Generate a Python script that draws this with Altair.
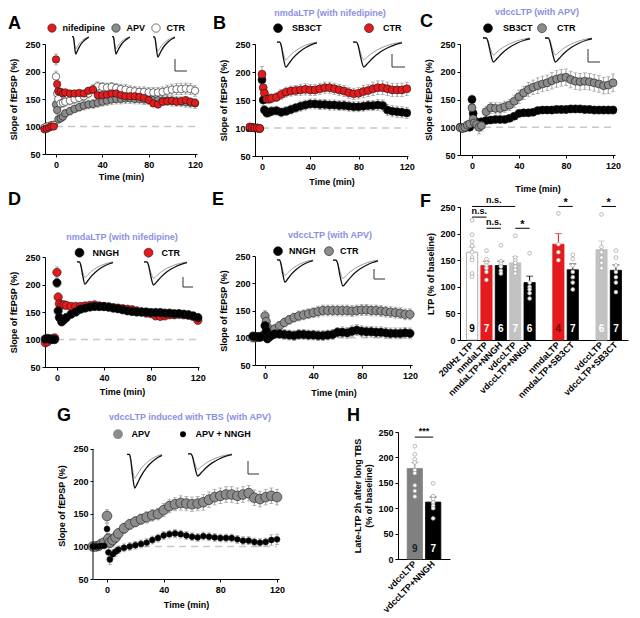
import altair as alt
import pandas as pd

FONT = "Liberation Sans"
RED = "#e41a1c"
GRAY = "#8c8c8c"
LGRAY = "#c2c2c2"
BLACK = "#000000"
WHITE = "#ffffff"
SUBCOL = "#8c8fe0"
ERRCOL = "#8a8a8a"
DASHCOL = "#c8c8c8"

# ---------------- time-course data ----------------
T = [-10, -8, -6, -4, -2, 0, 1, 2, 4, 6, 8, 12, 16, 20, 24, 28, 32, 36, 40, 44, 48, 52, 56, 60,
     64, 68, 72, 76, 80, 84, 88, 92, 96, 100, 104, 108, 112, 116, 120]
X_TICKS = [0, 40, 80, 120]
Y_TICKS = [50, 100, 150, 200, 250]

A_NIF = [95, 96, 98, 100, 100, 222, 177, 164, 163, 160, 162,
         160, 160, 161, 160, 165, 167, 157, 157, 158, 160, 160, 157, 155, 155, 155, 154, 152, 148, 142, 140, 145, 146, 147, 145, 146, 148, 145, 143]
A_APV = [97, 99, 100, 102, 103, 140, 130, 113, 115, 118, 124,
         128, 132, 135, 138, 140, 141, 143, 145, 147, 149, 150, 150, 151, 151, 150, 150, 149, 149, 148, 148, 147, 147, 146, 146, 145, 144, 143, 142]
A_CTR = [98, 100, 101, 102, 103, 191, 160, 150, 142, 143, 145,
         147, 150, 152, 155, 160, 168, 173, 172, 171, 172, 170, 168, 167, 165, 164, 163, 163, 162, 162, 162, 163, 165, 167, 168, 168, 169, 168, 165]
A_NIF_E = [3, 3, 3, 3, 3, 10, 8, 6, 6, 5, 5,
           5, 5, 5, 5, 6, 6, 6, 6, 6, 6, 6, 6, 6, 6, 6, 6, 6, 6, 6, 6, 6, 6, 6, 6, 6, 6, 6, 6]
A_APV_E = [3, 3, 3, 3, 3, 8, 8, 7, 7, 7, 7,
           7, 7, 7, 8, 8, 8, 8, 8, 9, 9, 9, 9, 9, 9, 9, 9, 9, 9, 9, 9, 9, 9, 9, 9, 9, 9, 9, 9]
A_CTR_E = [3, 3, 3, 3, 3, 10, 9, 8, 8, 8, 8,
           8, 8, 8, 8, 8, 8, 8, 8, 8, 8, 8, 9, 9, 9, 9, 9, 9, 9, 9, 9, 9, 10, 10, 10, 10, 10, 10, 10]

B_SB3CT = [101, 101, 100, 100, 99, 186, 150, 132, 127, 128, 130,
           131, 128, 130, 133, 136, 139, 141, 143, 143, 142, 142, 141, 141, 140, 140, 139, 138, 138, 139, 140, 140, 141, 140, 132, 130, 129, 128, 127]
B_CTR = [102, 101, 100, 100, 99, 196, 172, 162, 152, 152, 153,
         155, 160, 164, 166, 167, 168, 169, 168, 168, 170, 172, 172, 170, 168, 166, 163, 161, 162, 165, 167, 170, 172, 172, 170, 168, 168, 168, 170]
B_SB3CT_E = [3, 3, 3, 3, 3, 12, 10, 8, 8, 8, 8,
             8, 8, 8, 8, 8, 9, 9, 9, 9, 9, 9, 9, 9, 9, 9, 9, 9, 9, 9, 9, 9, 10, 10, 10, 10, 10, 10, 10]
B_CTR_E = [3, 3, 3, 3, 3, 14, 10, 8, 8, 8, 8,
           8, 9, 9, 9, 9, 10, 10, 10, 10, 10, 10, 10, 10, 10, 10, 10, 10, 10, 11, 11, 12, 12, 12, 12, 12, 12, 12, 12]

C_SB3CT = [100, 98, 99, 101, 100, 150, 125, 112, 108, 108, 110,
           112, 113, 114, 114, 114, 116, 120, 125, 126, 126, 127, 130, 131, 131, 131, 132, 132, 132, 133, 133, 133, 132, 132, 131, 131, 131, 131, 131]
C_CTR = [99, 98, 100, 104, 106, 135, 115, 108, 105, 100, 103,
         128, 135, 134, 134, 137, 140, 147, 155, 162, 168, 172, 175, 178, 180, 184, 187, 189, 190, 186, 183, 182, 183, 182, 180, 178, 175, 176, 180]
C_SB3CT_E = [3, 3, 3, 3, 3, 8, 6, 5, 5, 5, 5,
             5, 5, 5, 5, 5, 5, 5, 6, 6, 6, 6, 6, 6, 6, 7, 7, 7, 7, 7, 7, 7, 7, 7, 7, 7, 7, 7, 7]
C_CTR_E = [3, 3, 3, 3, 4, 15, 12, 10, 10, 12, 10,
           10, 10, 10, 10, 10, 10, 11, 12, 12, 13, 13, 14, 14, 14, 15, 15, 15, 15, 15, 15, 15, 15, 15, 15, 15, 15, 15, 16]

D_CTR = [94, 96, 100, 101, 103, 222, 177, 165, 163, 163, 162,
         160, 160, 160, 161, 162, 163, 161, 160, 159, 158, 157, 156, 155, 154, 152, 150, 148, 147, 143, 142, 143, 145, 145, 146, 145, 144, 142, 135]
D_NNGH = [101, 102, 101, 100, 100, 203, 152, 140, 132, 136, 140,
          146, 150, 155, 157, 159, 160, 160, 160, 159, 157, 156, 154, 152, 151, 150, 150, 150, 149, 149, 149, 148, 148, 147, 147, 146, 145, 143, 140]
D_CTR_E = [3, 3, 3, 3, 3, 10, 8, 6, 6, 5, 5,
           5, 5, 5, 5, 5, 5, 5, 5, 5, 5, 5, 5, 5, 5, 5, 5, 5, 5, 5, 5, 5, 5, 5, 5, 5, 5, 5, 5]
D_NNGH_E = [3, 3, 3, 3, 3, 8, 8, 7, 6, 6, 6,
            6, 6, 6, 6, 6, 6, 6, 6, 6, 6, 6, 6, 6, 6, 6, 6, 5, 5, 5, 5, 5, 5, 5, 5, 5, 5, 5, 5]

E_CTR = [100, 100, 101, 102, 104, 140, 130, 120, 110, 112, 116,
         122, 128, 133, 137, 140, 142, 144, 146, 148, 150, 150, 150, 150, 150, 150, 149, 150, 151, 151, 150, 150, 149, 148, 147, 146, 145, 143, 143]
E_NNGH = [103, 102, 102, 101, 103, 122, 112, 98, 102, 105, 107,
          107, 106, 105, 104, 106, 106, 105, 105, 104, 104, 105, 106, 110, 110, 109, 112, 114, 112, 111, 111, 110, 110, 109, 108, 108, 108, 109, 108]
E_CTR_E = [3, 3, 3, 3, 3, 10, 9, 8, 8, 8, 8,
           8, 8, 8, 8, 9, 9, 9, 9, 10, 10, 10, 10, 10, 10, 10, 10, 10, 10, 10, 10, 10, 10, 10, 10, 10, 10, 10, 10]
E_NNGH_E = [3, 3, 3, 3, 3, 8, 7, 6, 7, 7, 8,
            8, 9, 9, 9, 9, 9, 9, 9, 9, 9, 9, 9, 9, 10, 10, 10, 10, 10, 10, 10, 10, 10, 10, 10, 10, 10, 10, 10]

G_APV = [100, 100, 101, 104, 106, 147, 112, 106, 110, 114, 120,
         128, 134, 138, 142, 145, 148, 150, 156, 162, 165, 167, 166, 165, 166, 168, 172, 176, 178, 180, 180, 178, 180, 182, 175, 173, 176, 178, 176]
G_NNGH = [100, 100, 100, 101, 101, 127, 91, 80, 88, 92, 95,
          98, 100, 102, 104, 106, 110, 113, 117, 119, 120, 119, 117, 115, 114, 116, 115, 114, 113, 113, 113, 111, 109, 109, 107, 106, 107, 110, 111]
G_APV_E = [3, 3, 3, 3, 4, 10, 8, 8, 8, 8, 8,
           8, 8, 8, 8, 9, 9, 9, 10, 10, 10, 11, 11, 11, 11, 12, 12, 12, 12, 12, 12, 12, 12, 12, 12, 12, 12, 12, 12]
G_NNGH_E = [3, 3, 3, 3, 3, 8, 8, 8, 7, 7, 6,
            6, 6, 6, 6, 6, 6, 6, 6, 6, 6, 6, 6, 6, 6, 6, 6, 6, 6, 6, 6, 6, 6, 6, 6, 6, 6, 8, 8]

# inset trace shape (fractions of inset box)
TRACE_U = [0.0, 0.07, 0.10, 0.16, 0.22, 0.30, 0.40, 0.55, 0.72, 0.88, 1.0]
TRACE_BLACK = [0.04, 0.04, 0.15, 0.65, 1.0, 0.86, 0.66, 0.43, 0.25, 0.13, 0.07]
TRACE_GRAY = [0.04, 0.04, 0.13, 0.48, 0.72, 0.60, 0.45, 0.29, 0.16, 0.08, 0.04]
BAR_U = [0, 0, 1]
BAR_V = [0, 1, 1]

# ---------------- bar data ----------------
F_KEYS = ["200Hz LTP", "nmdaLTP", "nmdaLTP+NNGH", "vdccLTP", "vdccLTP+NNGH", " ",
          "nmdaLTP ", "nmdaLTP+SB3CT", "  ", "vdccLTP ", "vdccLTP+SB3CT"]
F_BARS = ["200Hz LTP", "nmdaLTP", "nmdaLTP+NNGH", "vdccLTP", "vdccLTP+NNGH",
          "nmdaLTP ", "nmdaLTP+SB3CT", "vdccLTP ", "vdccLTP+SB3CT"]
F_MEAN = [165, 140, 140, 145, 108, 180, 132, 170, 131]
F_TOP = [175, 148, 148, 157, 120, 200, 143, 186, 141]
F_N = ["9", "7", "6", "7", "6", "4", "7", "6", "7"]
F_FILL = [WHITE, RED, BLACK, LGRAY, BLACK, RED, BLACK, LGRAY, BLACK]
F_EDGE = ["#9a9a9a", RED, BLACK, LGRAY, BLACK, RED, BLACK, LGRAY, BLACK]
F_ERRC = ["#9a9a9a", RED, BLACK, LGRAY, BLACK, RED, BLACK, LGRAY, BLACK]
F_NCOL = [BLACK, WHITE, WHITE, WHITE, WHITE, "#7a0000", WHITE, WHITE, WHITE]
F_D0 = [225, 198, 185, 177, 165, 155, 150, 125, 119]
F_D1 = [168, 152, 145, 140, 135, 128, 113]
F_D2 = [178, 148, 143, 138, 130, 125]
F_D3 = [196, 155, 150, 145, 138, 132, 125]
F_D4 = [163, 108, 100, 95, 88, 78]
F_D5 = [238, 180, 165, 150]
F_D6 = [160, 152, 140, 128, 118, 108, 95]
F_D7 = [236, 175, 165, 155, 145, 135]
F_D8 = [168, 155, 140, 128, 118, 108, 90]
F_BR_FROM = ["200Hz LTP", "200Hz LTP", "nmdaLTP", "vdccLTP", "nmdaLTP ", "vdccLTP "]
F_BR_TO = ["vdccLTP", "nmdaLTP", "nmdaLTP+NNGH", "vdccLTP+NNGH", "nmdaLTP+SB3CT", "vdccLTP+SB3CT"]
F_BR_MID = ["nmdaLTP", "200Hz LTP", "nmdaLTP", "vdccLTP", "nmdaLTP ", "vdccLTP "]
F_BR_Y = [251, 231, 210, 210, 251, 251]
F_BR_TXT = ["n.s.", "n.s.", "n.s.", "*", "*", "*"]

H_KEYS = ["vdccLTP", "vdccLTP+NNGH"]
H_MEAN = [178, 112]
H_TOP = [190, 122]
H_N = ["9", "7"]
H_FILL = ["#808080", BLACK]
H_NCOL = ["#222222", WHITE]
H_D0 = [222, 206, 196, 190, 175, 169, 145, 134, 123]
H_D1 = [149, 124, 118, 111, 105, 100, 80]


def one():
    return pd.DataFrame({"k": [0]})


def text_at(s, x, y, size, color="black", align="left", baseline="alphabetic"):
    return alt.Chart(one()).mark_text(text=s, font=FONT, fontSize=size, fontWeight="bold",
                                      color=color, align=align, baseline=baseline).encode(
        x=alt.value(x), y=alt.value(y))


def anchor(x1, x2, y1, y2):
    return alt.Chart(one()).mark_rect(opacity=0).encode(
        x=alt.value(x1), x2=alt.value(x2), y=alt.value(y1), y2=alt.value(y2))


def trace_layers(insets, bar, W, H):
    rows = []
    for k, (x0, y0, w, h) in enumerate(insets):
        for shape, col, sw, tag in ((TRACE_GRAY, "#9b9b9b", 1.0, "g"), (TRACE_BLACK, "#111111", 1.3, "b")):
            for i, (u, v) in enumerate(zip(TRACE_U, shape)):
                rows.append({"x": x0 + u * w, "y": y0 + v * h, "grp": f"{k}{tag}", "col": col, "w": sw, "i": i})
    bx, by, bw, bh = bar
    brow = [{"x": bx + u * bw, "y": by + v * bh, "i": i} for i, (u, v) in enumerate(zip(BAR_U, BAR_V))]
    xs = alt.Scale(domain=[0, W], nice=False, zero=False)
    ys = alt.Scale(domain=[H, 0], nice=False, zero=False)
    tr = alt.Chart(pd.DataFrame(rows)).mark_line(interpolate="monotone").encode(
        x=alt.X("x:Q", scale=xs, axis=None), y=alt.Y("y:Q", scale=ys, axis=None),
        detail="grp:N", color=alt.Color("col:N", scale=None),
        strokeWidth=alt.StrokeWidth("w:Q", scale=None), order="i:Q")
    sb = alt.Chart(pd.DataFrame(brow)).mark_line(color="#333333", strokeWidth=1).encode(
        x=alt.X("x:Q", scale=xs, axis=None), y=alt.Y("y:Q", scale=ys, axis=None), order="i:Q")
    return [tr, sb]


def ts_panel(c):
    W, H = c["w"], c["h"]
    names = [n for n, _ in c["legend_items"]]
    cols = [k for _, k in c["legend_items"]]
    rows = []
    for name, vals, errs in c["series"]:
        assert len(vals) == len(T) and len(errs) == len(T), name
        for t, v, e in zip(T, vals, errs):
            rows.append({"t": t, "v": v, "lo": v - e, "hi": v + e, "s": name})
    df = pd.DataFrame(rows)
    ydom = c.get("ydom", [50, 250])
    ext = ydom[1] > 250
    xs = alt.Scale(domain=c["xdom"], nice=False, zero=False)
    ys = alt.Scale(domain=ydom, nice=False, zero=False)
    xax = alt.Axis(values=X_TICKS, title="Time (min)", titlePadding=c["xpad"], labelFlush=False)
    if ext:
        yax = alt.Axis(values=Y_TICKS, title="Slope of fEPSP (%)", titlePadding=6, domain=False)
    else:
        yax = alt.Axis(values=Y_TICKS, title="Slope of fEPSP (%)", titlePadding=6)

    def X(f):
        return alt.X(f, type="quantitative", scale=xs, axis=xax)

    def Y(f):
        return alt.Y(f, type="quantitative", scale=ys, axis=yax)

    dash = alt.Chart(pd.DataFrame({"t": [0], "t2": [120], "v": [100]})).mark_rule(
        color=DASHCOL, strokeDash=[7, 5], strokeWidth=1.4).encode(x=X("t"), x2="t2:Q", y=Y("v"))
    base = alt.Chart(df)
    err = base.mark_rule(color=ERRCOL, strokeWidth=0.8).encode(x=X("t"), y=Y("lo"), y2="hi:Q")
    cap_hi = base.mark_tick(color=ERRCOL, orient="horizontal", size=4, thickness=0.8).encode(x=X("t"), y=Y("hi"))
    cap_lo = base.mark_tick(color=ERRCOL, orient="horizontal", size=4, thickness=0.8).encode(x=X("t"), y=Y("lo"))
    lx, ly, cpad, loff = c["legend"]
    legkw = dict(orient="none", legendX=lx, legendY=ly, direction="horizontal", title=None,
                 labelFont=FONT, labelFontSize=9, labelFontWeight="bold", labelColor="black",
                 symbolType="circle", symbolStrokeColor="#1a1a1a", symbolStrokeWidth=0.6,
                 columnPadding=cpad, labelOffset=loff, padding=0)
    if "sizes" in c:
        leg = alt.Legend(**legkw)
        pts = base.mark_circle(opacity=1, stroke="#1a1a1a", strokeWidth=0.6).encode(
            x=X("t"), y=Y("v"),
            fill=alt.Fill("s:N", scale=alt.Scale(domain=names, range=cols), legend=leg),
            size=alt.Size("s:N", scale=alt.Scale(domain=names, range=c["sizes"]), legend=leg))
    else:
        leg = alt.Legend(symbolSize=c["symsize"], **legkw)
        pts = base.mark_circle(opacity=1, size=c["size"], stroke="#1a1a1a", strokeWidth=0.6).encode(
            x=X("t"), y=Y("v"),
            fill=alt.Fill("s:N", scale=alt.Scale(domain=names, range=cols), legend=leg))
    inner = [dash, err, cap_hi, cap_lo, pts]
    if ext:
        yline = alt.Chart(pd.DataFrame({"t": [c["xdom"][0]], "y1": [50], "y2": [250]})).mark_rule(
            color=BLACK, strokeWidth=1).encode(x=X("t"), y=Y("y1"), y2="y2:Q")
        inner.append(yline)
    data_layer = alt.layer(*inner)
    layers = [data_layer] + trace_layers(c["insets"], c["bar"], W, H)
    lt, lxx, lyy = c["letter"]
    layers.append(text_at(lt, lxx, lyy, 18))
    if "sub" in c:
        st, sx, sy = c["sub"]
        layers.append(text_at(st, sx, sy, 9, color=SUBCOL, align="center", baseline="middle"))
    layers.append(anchor(*c["rect"]))
    return alt.layer(*layers).resolve_scale(x="independent", y="independent").properties(width=W, height=H)


def bar_panel(keys, bars, means, tops, ns, fills, edges, errc, ncol, dots, W, H, pin, pout,
              ytitle, letter, rect, brackets, step_half, ypad):
    xs = alt.Scale(domain=keys, paddingInner=pin, paddingOuter=pout)
    ys = alt.Scale(domain=[0, 250], nice=False, zero=False)
    xax = alt.Axis(title=None, labelAngle=-45, labelAlign="right", labelBaseline="middle", ticks=False,
                   labelPadding=3, labelOverlap=False, labelExpr="trim(datum.label)", labelFontSize=9)
    yax = alt.Axis(values=[0, 50, 100, 150, 200, 250], title=ytitle, titlePadding=ypad)

    def X(f):
        return alt.X(f, type="nominal", scale=xs, axis=xax)

    def Y(f):
        return alt.Y(f, type="quantitative", scale=ys, axis=yax)

    bdf = pd.DataFrame({"cat": bars, "mean": means, "top": tops, "n": ns, "fill": fills,
                        "edge": edges, "errc": errc, "ncol": ncol, "ny": [20] * len(bars)})
    drows = []
    for cat, vals in zip(bars, dots):
        for v in vals:
            drows.append({"cat": cat, "v": v})
    ddf = pd.DataFrame(drows)
    b = alt.Chart(bdf)
    bar = b.mark_bar(strokeWidth=0.8).encode(x=X("cat"), y=Y("mean"),
                                             fill=alt.Fill("fill:N", scale=None),
                                             stroke=alt.Stroke("edge:N", scale=None))
    er = b.mark_rule(strokeWidth=1).encode(x=X("cat"), y=Y("mean"), y2="top:Q",
                                           color=alt.Color("errc:N", scale=None))
    cap = b.mark_tick(orient="horizontal", size=7, thickness=1).encode(
        x=X("cat"), y=Y("top"), color=alt.Color("errc:N", scale=None))
    dt = alt.Chart(ddf).mark_circle(opacity=1, size=14, fill=WHITE, stroke="#a8a8a8", strokeWidth=0.8).encode(
        x=X("cat"), y=Y("v"))
    nt = b.mark_text(font=FONT, fontSize=10, fontWeight="bold", baseline="middle").encode(
        x=X("cat"), y=Y("ny"), text="n:N", color=alt.Color("ncol:N", scale=None))
    layers = [bar, er, cap, dt, nt]
    bfrom, bto, bmid, by, btxt = brackets
    brdf = pd.DataFrame({"a": bfrom, "b": bto, "m": bmid, "y": by, "t": btxt})
    layers.append(alt.Chart(brdf).mark_rule(color=BLACK, strokeWidth=1).encode(
        x=X("a"), x2="b:N", y=Y("y")))
    ns_df = brdf[brdf["t"] != "*"]
    st_df = brdf[brdf["t"] == "*"]
    if len(ns_df):
        layers.append(alt.Chart(ns_df).mark_text(font=FONT, fontSize=9, fontWeight="bold", baseline="bottom",
                                                 dx=step_half, dy=-1).encode(x=X("m"), y=Y("y"), text="t:N"))
    if len(st_df):
        layers.append(alt.Chart(st_df).mark_text(font=FONT, fontSize=11, fontWeight="bold", baseline="bottom",
                                                 dx=step_half, dy=2).encode(x=X("m"), y=Y("y"), text="t:N"))
    lt, lx, ly = letter
    layers.append(text_at(lt, lx, ly, 18))
    layers.append(anchor(*rect))
    return alt.layer(*layers).properties(width=W, height=H)


A = ts_panel(dict(
    w=152, h=110, xdom=[-9.5, 121.7], xpad=3,
    series=[("APV", A_APV, A_APV_E), ("CTR", A_CTR, A_CTR_E), ("nifedipine", A_NIF, A_NIF_E)],
    legend_items=[("nifedipine", RED), ("APV", GRAY), ("CTR", WHITE)],
    size=55, symsize=70, legend=(2.5, -20.5, 5, 6),
    insets=[(27, -8, 17, 18), (67, -8, 18, 18), (108, -8, 22, 21)], bar=(130, 15, 12, 12),
    letter=("A", -37, -15), rect=(-37, 163, -36, 140)))

B = ts_panel(dict(
    w=153, h=112, xdom=[-5.8, 121], xpad=6,
    series=[("SB3CT", B_SB3CT, B_SB3CT_E), ("CTR", B_CTR, B_CTR_E)],
    legend_items=[("SB3CT", BLACK), ("CTR", RED)],
    size=64, symsize=80, legend=(18, -21, 41, 9),
    insets=[(22, -3, 40, 26), (98, -3, 49, 26)], bar=(137, 10, 13, 13),
    letter=("B", -42, -15), sub=("nmdaLTP (with nifedipine)", 75, -31), rect=(-47, 165, -36, 145)))

C = ts_panel(dict(
    w=155, h=111, xdom=[-10.2, 121.7], xpad=14,
    series=[("SB3CT", C_SB3CT, C_SB3CT_E), ("CTR", C_CTR, C_CTR_E)],
    legend_items=[("SB3CT", BLACK), ("CTR", GRAY)],
    size=64, symsize=80, legend=(23, -21, 3, 10),
    insets=[(23, -7, 47, 25), (85, -7, 47, 25)], bar=(128, 5, 12, 13),
    letter=("C", -40, -17), sub=("vdccLTP (with APV)", 77, -32), rect=(-40, 170, -36, 146)))

D = ts_panel(dict(
    w=154, h=110, xdom=[-10.2, 121], xpad=5,
    series=[("CTR", D_CTR, D_CTR_E), ("NNGH", D_NNGH, D_NNGH_E)],
    legend_items=[("NNGH", BLACK), ("CTR", RED)],
    size=70, symsize=80, legend=(29.5, -9.5, 23, 8),
    insets=[(32, 4, 36, 23), (99, 4, 43, 24)], bar=(138, 20, 10, 10),
    letter=("D", -37, -52), sub=("nmdaLTP (with nifedipine)", 77, -20), rect=(-37, 163, -73, 140)))

E = ts_panel(dict(
    w=157, h=109, xdom=[-8.3, 121.7], xpad=8,
    series=[("CTR", E_CTR, E_CTR_E), ("NNGH", E_NNGH, E_NNGH_E)],
    legend_items=[("NNGH", BLACK), ("CTR", GRAY)],
    size=70, symsize=80, legend=(18, -10, 7, 6),
    insets=[(22, 3, 36, 23), (78, 3, 45, 27)], bar=(119, 13, 11, 10),
    letter=("E", -43, -51), sub=("vdccLTP (with APV)", 75, -21), rect=(-47, 165, -67, 143)))

G = ts_panel(dict(
    w=186, h=147, xdom=[-9.9, 121.4], ydom=[50, 276.15], xpad=6,
    series=[("APV", G_APV, G_APV_E), ("APV + NNGH", G_NNGH, G_NNGH_E)],
    legend_items=[("APV", GRAY), ("APV + NNGH", BLACK)],
    sizes=[95, 35], legend=(19.5, -3.5, 28, 8),
    insets=[(34, 21, 35, 35), (95, 21, 44, 23)], bar=(155, 29, 11, 13),
    letter=("G", -36, -11), sub=("vdccLTP induced with TBS (with APV)", 97, -15), rect=(-36, 195, -32, 178)))

F = bar_panel(F_KEYS, F_BARS, F_MEAN, F_TOP, F_N, F_FILL, F_EDGE, F_ERRC, F_NCOL,
              [F_D0, F_D1, F_D2, F_D3, F_D4, F_D5, F_D6, F_D7, F_D8],
              168, 133, 0.22, 0.45, "LTP (% of baseline)", ("F", -40, 0), (-40, 170, -14, 190),
              (F_BR_FROM, F_BR_TO, F_BR_MID, F_BR_Y, F_BR_TXT), 7.2, 4)

Hc = bar_panel(H_KEYS, H_KEYS, H_MEAN, H_TOP, H_N, H_FILL, H_FILL, H_FILL, H_NCOL,
               [H_D0, H_D1], 52, 127, 0.17, 0.5,
               ["Late-LTP 2h after long TBS", "(% of baseline)"], ("H", -51, -11), (-110, 60, -32, 178),
               (["vdccLTP"], ["vdccLTP+NNGH"], ["vdccLTP"], [240], ["***"]), 9.2, 4)

spacer = alt.Chart(one()).mark_point(opacity=0, size=1).encode(
    x=alt.value(0), y=alt.value(0)).properties(width=12, height=10)


def indep(ch):
    return ch.resolve_scale(fill="independent", size="independent").resolve_legend(
        fill="independent", size="independent")


col1 = indep(alt.vconcat(A, D, spacing=0))
col2 = indep(alt.vconcat(B, E, spacing=0))
col3 = indep(alt.vconcat(C, F, spacing=0))
top = indep(alt.hconcat(col1, col2, col3, spacing=0))
bottom = indep(alt.hconcat(spacer, G, Hc, spacing=0))

chart = indep(alt.vconcat(top, bottom, spacing=0)).properties(padding=0).configure(
    font=FONT).configure_view(strokeWidth=0).configure_axis(
    labelFont=FONT, labelFontWeight="bold", labelFontSize=9, labelColor="black",
    titleFont=FONT, titleFontWeight="bold", titleFontSize=9, titleColor="black",
    domainColor="black", domainWidth=1, tickColor="black", tickSize=3, tickWidth=1,
    grid=False, labelFlush=False).configure_axisX(labelPadding=3).configure_axisY(labelPadding=2)

chart.save("out.html", embed_options={"renderer": "svg", "actions": False})
